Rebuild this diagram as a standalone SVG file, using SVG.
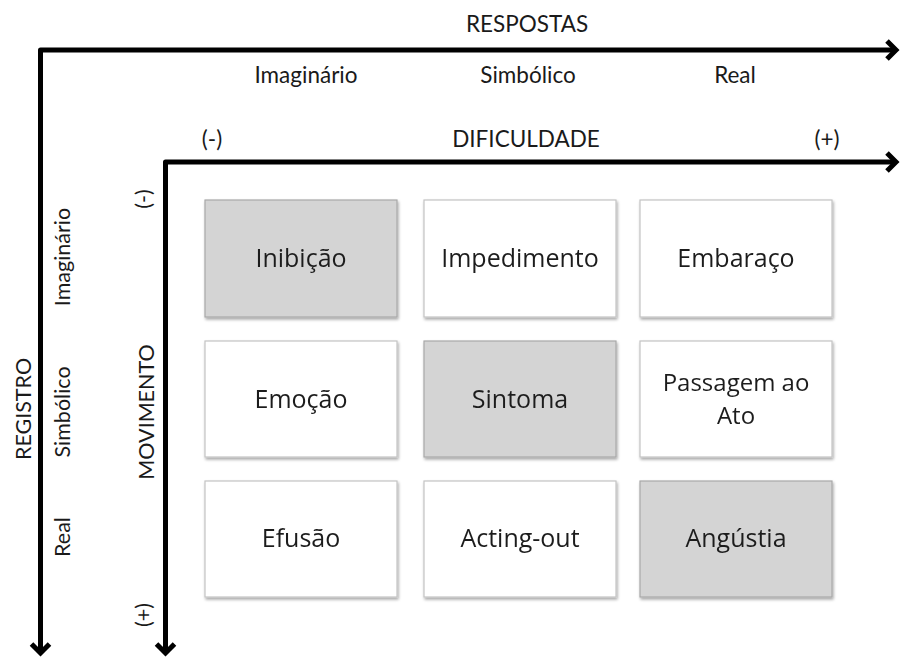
<svg xmlns="http://www.w3.org/2000/svg" width="902" height="658" viewBox="0 0 902 658">
<style>
.lbl{font-family:Lato,"Liberation Sans",sans-serif;font-size:22.5px;fill:#1a1a1a;text-anchor:middle}
.vl{font-family:Lato,"Liberation Sans",sans-serif;font-size:21.5px;fill:#1a1a1a;text-anchor:middle}
.bt{font-family:"Open Sans","Liberation Sans",sans-serif;font-size:25px;fill:#1f1f1f;text-anchor:middle}
.box{fill:#ffffff;stroke:#c4c4c4;stroke-width:1.2}
.gbox{fill:#d4d4d4;stroke:#a8a8a8;stroke-width:1.2}
.ax{fill:none;stroke:#000;stroke-width:5;stroke-linejoin:round}
.hd{fill:none;stroke:#000;stroke-width:5;stroke-linejoin:miter}
</style>
<defs>
<filter id="sh" x="-10%" y="-10%" width="125%" height="130%">
<feGaussianBlur in="SourceAlpha" stdDeviation="1.5"/>
<feOffset dx="1" dy="2" result="o"/>
<feComponentTransfer><feFuncA type="linear" slope="0.35"/></feComponentTransfer>
<feMerge><feMergeNode/><feMergeNode in="SourceGraphic"/></feMerge>
</filter>
</defs>
<rect width="902" height="658" fill="#ffffff"/>
<g id="connectors">
<path class="ax" d="M40.5 652 V50 H896"/>
<path class="hd" d="M887 41 L896 50 L887 59"/>
<path class="hd" d="M31.5 644 L40.5 653 L49.5 644"/>
<path class="ax" d="M165.5 652 V162 H896"/>
<path class="hd" d="M887 153 L896 162 L887 171"/>
<path class="hd" d="M156.5 644 L165.5 653 L174.5 644"/>
</g>
<g id="labels">
<text class="lbl" x="527" y="32">RESPOSTAS</text>
<text class="lbl" x="306" y="83">Imaginário</text>
<text class="lbl" x="528" y="83">Simbólico</text>
<text class="lbl" x="735" y="83">Real</text>
<text class="lbl" x="212" y="147">(-)</text>
<text class="lbl" x="526" y="147">DIFICULDADE</text>
<text class="lbl" x="827" y="147">(+)</text>
<text class="vl" transform="translate(31 409) rotate(-90)">REGISTRO</text>
<text class="vl" transform="translate(70 257) rotate(-90)">Imaginário</text>
<text class="vl" transform="translate(70 412) rotate(-90)">Simbólico</text>
<text class="vl" transform="translate(70 537) rotate(-90)">Real</text>
<text class="vl" transform="translate(154 412) rotate(-90)">MOVIMENTO</text>
<text class="vl" transform="translate(151 199) rotate(-90)">(-)</text>
<text class="vl" transform="translate(151 615) rotate(-90)">(+)</text>
</g>
<g id="n-inibicao" filter="url(#sh)"><rect class="gbox" x="205" y="200" width="192" height="117"/><text class="bt" x="301" y="267">Inibição</text></g>
<g id="n-impedimento" filter="url(#sh)"><rect class="box" x="424" y="200" width="192" height="117"/><text class="bt" x="520" y="267">Impedimento</text></g>
<g id="n-embaraco" filter="url(#sh)"><rect class="box" x="640" y="200" width="192" height="117"/><text class="bt" x="736" y="267">Embaraço</text></g>
<g id="n-emocao" filter="url(#sh)"><rect class="box" x="205" y="341" width="192" height="116"/><text class="bt" x="301" y="408">Emoção</text></g>
<g id="n-sintoma" filter="url(#sh)"><rect class="gbox" x="424" y="341" width="192" height="116"/><text class="bt" x="520" y="408">Sintoma</text></g>
<g id="n-passagem" filter="url(#sh)"><rect class="box" x="640" y="341" width="192" height="116"/><text class="bt" x="736" y="391" style="font-size:24px">Passagem ao</text><text class="bt" x="736" y="424" style="font-size:24px">Ato</text></g>
<g id="n-efusao" filter="url(#sh)"><rect class="box" x="205" y="481" width="192" height="116"/><text class="bt" x="301" y="547">Efusão</text></g>
<g id="n-acting" filter="url(#sh)"><rect class="box" x="424" y="481" width="192" height="116"/><text class="bt" x="520" y="547">Acting-out</text></g>
<g id="n-angustia" filter="url(#sh)"><rect class="gbox" x="640" y="481" width="192" height="116"/><text class="bt" x="736" y="547">Angústia</text></g>
</svg>
